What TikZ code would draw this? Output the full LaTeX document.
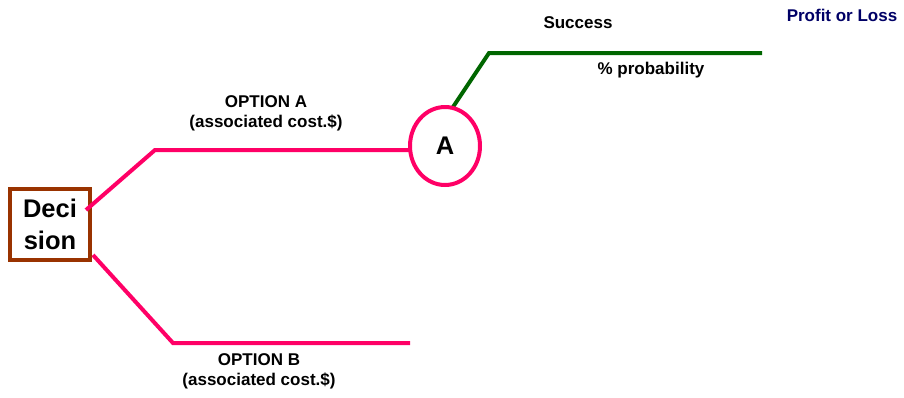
\documentclass[tikz,border=0pt]{standalone}
\usepackage{fontspec}
\setmainfont{Liberation Sans}
\usetikzlibrary{shapes.geometric}
\definecolor{pinkline}{HTML}{FF0066}
\definecolor{brownbox}{HTML}{993300}
\definecolor{greenline}{HTML}{006600}
\definecolor{navytext}{HTML}{000066}
\tikzset{
  lbl/.style={font=\bfseries\fontsize{17}{21}\selectfont, inner sep=0pt, anchor=base, align=center},
  pinkbranch/.style={draw=pinkline, line width=4pt},
  greenbranch/.style={draw=greenline, line width=4pt},
}
\begin{document}
\begin{tikzpicture}[x=1pt,y=-1pt]
\useasboundingbox (0,0) rectangle (904,397);
% decision box
\node[draw=brownbox, line width=4.5pt, minimum width=80pt, minimum height=71pt, inner sep=0pt,
      font=\bfseries\fontsize{25.5}{32}\selectfont, align=center, fill=white] (dec) at (50,224.5) {Deci\\sion};
% coordinates
\coordinate (aS) at (86,210);
\coordinate (aC) at (155,150);
\coordinate (aE) at (412,150);
\coordinate (bS) at (93,255);
\coordinate (bC) at (173,343);
\coordinate (bE) at (410,343);
\coordinate (gS) at (453,107);
\coordinate (gC) at (489,53);
\coordinate (gE) at (762,53);
% branches
\draw[pinkbranch] (aS) -- (aC) -- (aE);
\draw[pinkbranch] (bS) -- (bC) -- (bE);
\draw[greenbranch] (gS) -- (gC) -- (gE);
% chance node
\node[ellipse, draw=pinkline, line width=4pt, minimum width=70pt, minimum height=78pt, inner sep=0pt,
      fill=white, font=\bfseries\fontsize{25.5}{30}\selectfont] (chA) at (445,146) {A};
% labels
\node[lbl] (optA) at (266,107) {OPTION A};
\node[lbl] (costA) at (266,127) {(associated cost.\$)};
\node[lbl] (optB) at (259,365) {OPTION B};
\node[lbl] (costB) at (259,385.5) {(associated cost.\$)};
\node[lbl] (succ) at (578,28) {Success};
\node[lbl] (prob) at (651,74) {\% probability};
\node[lbl, text=navytext] (pl) at (842,21) {Profit or Loss};
\end{tikzpicture}
\end{document}
